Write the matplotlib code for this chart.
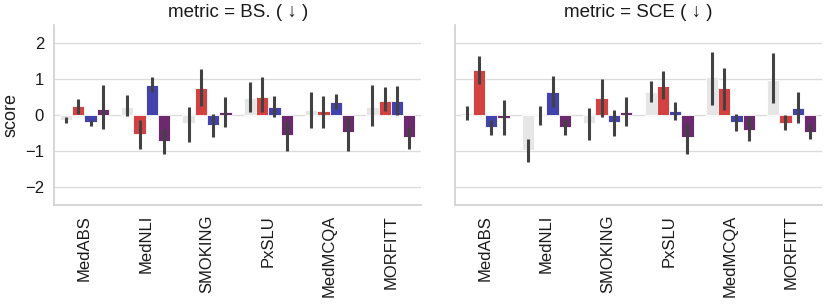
import matplotlib
matplotlib.use("Agg")
import matplotlib.pyplot as plt
import numpy as np

plt.rcParams["font.family"] = ["Liberation Sans", "DejaVu Sans"]

datasets = ["MedABS", "MedNLI", "SMOKING", "PxSLU", "MedMCQA", "MORFITT"]
models = ["base", "model_a", "model_b", "model_c"]
colors = ["#e6e6e6", "#d34141", "#4343ad", "#6b2a6e"]

# BS. -- mean score, lower / upper end of the error bar, per model
bs_mean = [
    [-0.13, 0.21, -0.22, 0.47, 0.14, 0.22],
    [0.25, -0.52, 0.74, 0.50, 0.11, 0.40],
    [-0.20, 0.82, -0.27, 0.22, 0.37, 0.40],
    [0.16, -0.73, 0.08, -0.56, -0.47, -0.61],
]
bs_lo = [
    [-0.22, -0.02, -0.75, 0.07, -0.36, -0.30],
    [0.04, -0.94, 0.24, 0.07, -0.37, 0.10],
    [-0.31, 0.63, -0.61, -0.06, 0.17, 0.01],
    [-0.39, -1.07, -0.34, -0.99, -0.99, -0.94],
]
bs_hi = [
    [-0.06, 0.56, 0.21, 0.91, 0.63, 0.84],
    [0.44, -0.13, 1.28, 1.05, 0.54, 0.78],
    [-0.13, 1.05, 0.04, 0.52, 0.58, 0.80],
    [0.84, -0.39, 0.50, -0.18, -0.06, -0.33],
]

# SCE
sce_mean = [
    [0.05, -0.96, -0.22, 0.63, 1.04, 0.96],
    [1.26, -0.01, 0.48, 0.81, 0.75, -0.21],
    [-0.34, 0.65, -0.19, 0.12, -0.19, 0.19],
    [-0.09, -0.33, 0.08, -0.62, -0.41, -0.47],
]
sce_lo = [
    [-0.14, -1.31, -0.69, 0.36, 0.27, 0.32],
    [0.86, -0.27, -0.06, 0.45, 0.13, -0.42],
    [-0.56, 0.21, -0.59, -0.13, -0.44, -0.22],
    [-0.55, -0.56, -0.31, -1.07, -0.73, -0.67],
]
sce_hi = [
    [0.26, -0.67, 0.20, 0.93, 1.75, 1.71],
    [1.65, 0.24, 1.00, 1.23, 1.31, 0.00],
    [-0.13, 1.09, 0.15, 0.37, 0.04, 0.63],
    [0.42, -0.13, 0.50, -0.24, -0.06, -0.24],
]

panels = [
    ("metric = BS. ( \u2193 )", bs_mean, bs_lo, bs_hi),
    ("metric = SCE ( \u2193 )", sce_mean, sce_lo, sce_hi),
]

fig, axes = plt.subplots(1, 2, figsize=(8.28, 3.07), dpi=100, sharey=True)
fig.subplots_adjust(left=0.065, right=0.993, top=0.919, bottom=0.332, wspace=0.09)

x = np.arange(len(datasets))
w = 0.2
for ax, (title, mean, lo, hi) in zip(axes, panels):
    for i, m in enumerate(models):
        pos = x - 0.3 + i * w
        mu = np.array(mean[i])
        err = np.vstack([mu - np.array(lo[i]), np.array(hi[i]) - mu])
        ax.bar(pos, mu, width=w, color=colors[i], edgecolor="white",
               linewidth=0.6, zorder=2, label=m)
        ax.errorbar(pos, mu, yerr=err, fmt="none", ecolor="#424242",
                    elinewidth=2.2, capsize=0, zorder=3)
    ax.set_title(title, fontsize=13.5, color="#1a1a1a")
    ax.set_xticks(x)
    ax.set_xticklabels(datasets, rotation=90, fontsize=12)
    ax.set_xlim(-0.5, len(datasets) - 0.5)
    ax.set_ylim(-2.5, 2.5)
    ax.set_yticks([-2, -1, 0, 1, 2])
    ax.grid(axis="y", color="#dcdcdc", linewidth=1, zorder=0)
    ax.set_axisbelow(True)
    for s in ["top", "right"]:
        ax.spines[s].set_visible(False)
    for s in ["left", "bottom"]:
        ax.spines[s].set_color("#d0d0d0")
        ax.spines[s].set_linewidth(1.2)
    ax.tick_params(length=0, labelsize=12, pad=7, labelcolor="#1a1a1a")

axes[0].set_ylabel("score", fontsize=13, color="#1a1a1a")
axes[1].tick_params(labelleft=False)

plt.savefig("out.png", dpi=100)
